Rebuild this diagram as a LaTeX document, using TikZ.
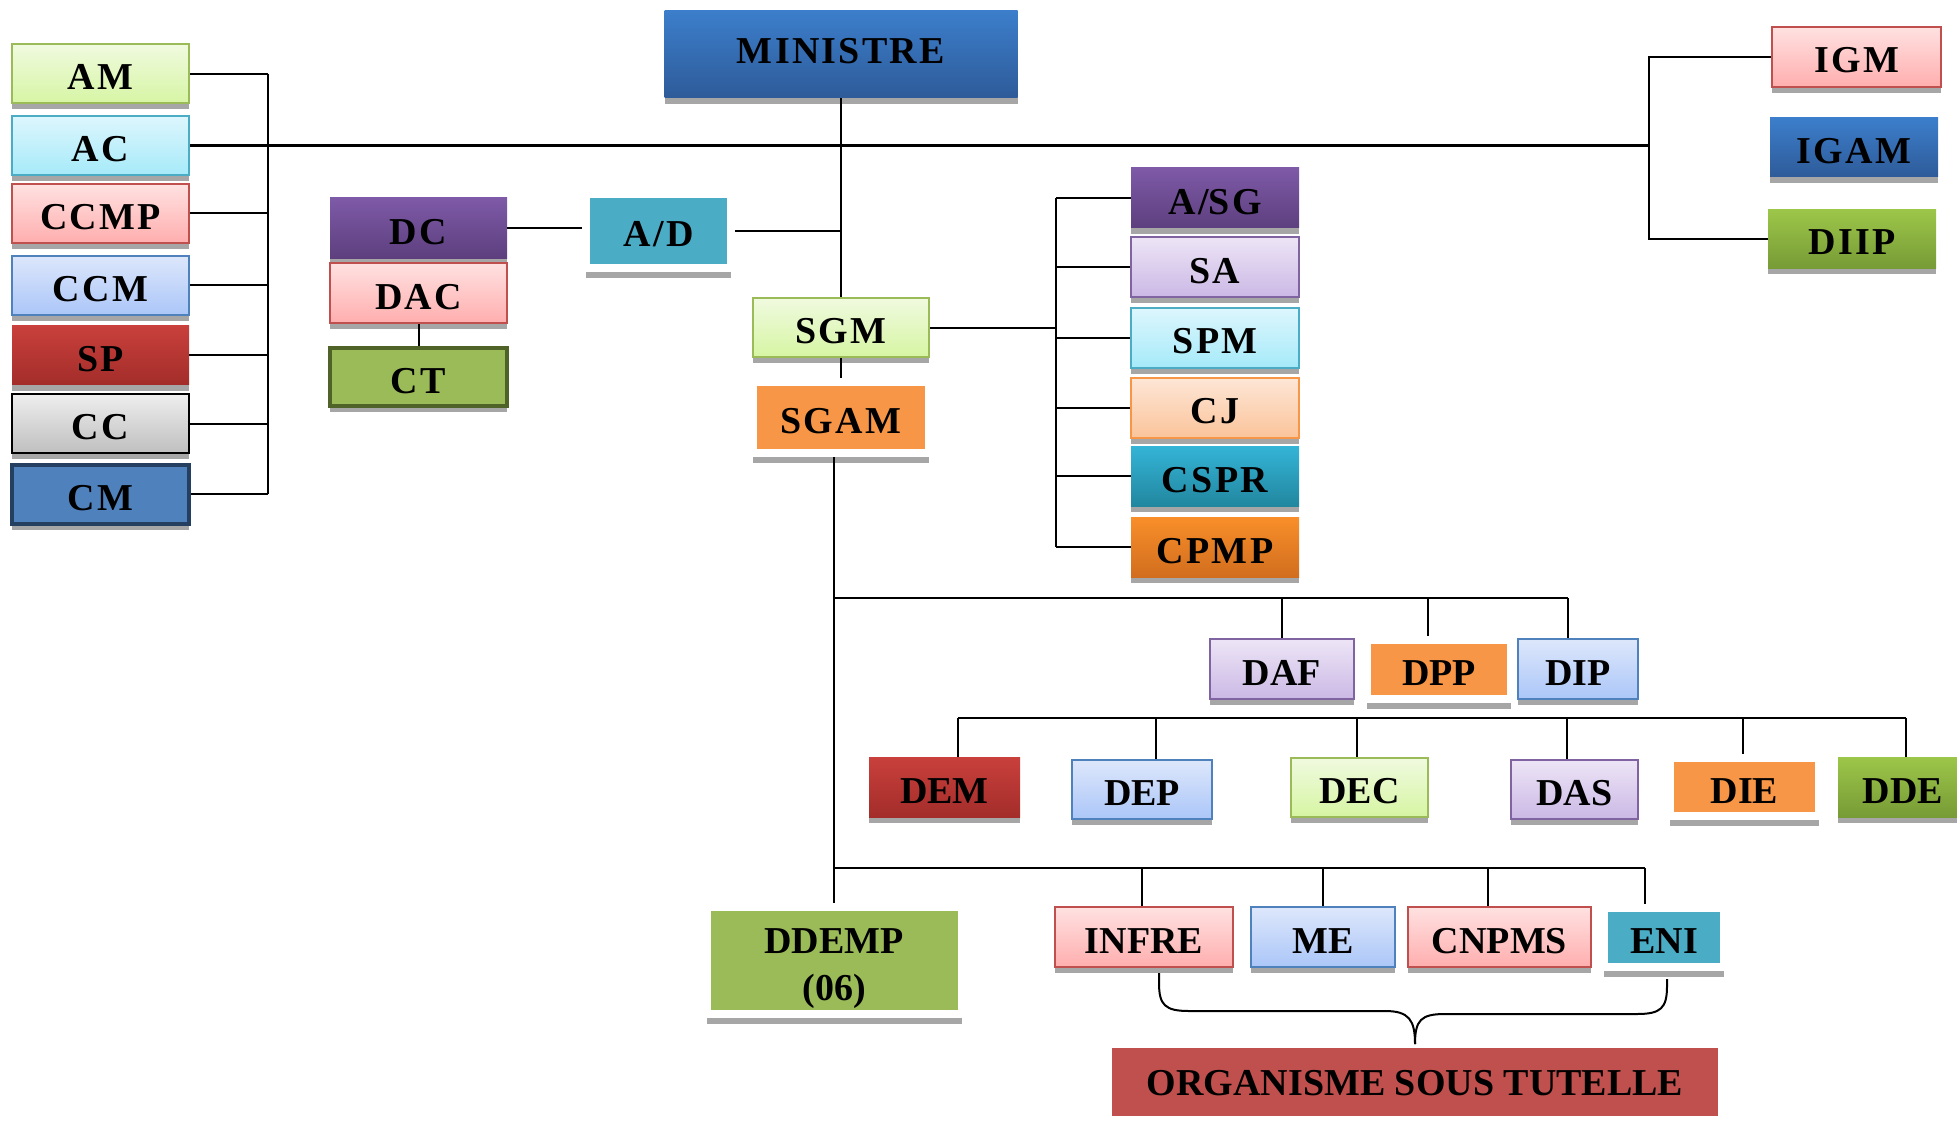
\documentclass[tikz,border=0pt]{standalone}
\usepackage{fontspec}
\setmainfont{Liberation Serif}
\newfontfamily\spacedfont[LetterSpace=6]{Liberation Serif}
\usepackage{xcolor}
\usepackage{tikz}
\usetikzlibrary{shadows}
\definecolor{shadowgray}{HTML}{A6A6A6}
\definecolor{gtop}{HTML}{F0FADF}
\definecolor{gbot}{HTML}{D6F5A3}
\definecolor{gline}{HTML}{9BBB59}
\definecolor{ctop}{HTML}{DDF6FD}
\definecolor{cbot}{HTML}{A6EAF9}
\definecolor{cline}{HTML}{4BACC6}
\definecolor{ptop}{HTML}{FFE1E1}
\definecolor{pbot}{HTML}{FFAEAE}
\definecolor{pline}{HTML}{C0504D}
\definecolor{btop}{HTML}{DDE7FB}
\definecolor{bbot}{HTML}{ABC6F8}
\definecolor{bline}{HTML}{4F81BD}
\definecolor{rtop}{HTML}{C9403C}
\definecolor{rbot}{HTML}{A32D2A}
\definecolor{ytop}{HTML}{EEEEEE}
\definecolor{ybot}{HTML}{BFBFBF}
\definecolor{navyline}{HTML}{243F60}
\definecolor{mtop}{HTML}{3C7ECB}
\definecolor{mbot}{HTML}{2E5B99}
\definecolor{vtop}{HTML}{7E5AA7}
\definecolor{vbot}{HTML}{5D3F7E}
\definecolor{ltop}{HTML}{EDE5F6}
\definecolor{lbot}{HTML}{CBB8E5}
\definecolor{lline}{HTML}{8064A2}
\definecolor{otop}{HTML}{FDE6D6}
\definecolor{obot}{HTML}{FBC49B}
\definecolor{oline}{HTML}{F79646}
\definecolor{ttop}{HTML}{34B4D7}
\definecolor{tbot}{HTML}{22879F}
\definecolor{ftop}{HTML}{F98F2A}
\definecolor{fbot}{HTML}{D16D1E}
\definecolor{dtop}{HTML}{9CC649}
\definecolor{dbot}{HTML}{779B36}
\definecolor{ctline}{HTML}{4F6228}
\definecolor{aqua}{HTML}{4BACC6}
\definecolor{orng}{HTML}{F79646}
\definecolor{olive}{HTML}{9BBB59}
\definecolor{brick}{HTML}{C0504D}
\newcommand{\boxfont}{\bfseries\fontsize{19}{23.5}\selectfont}
\newcommand{\upfont}{\spacedfont\bfseries\fontsize{19}{23.5}\selectfont}
\tikzset{
  sz/.style 2 args={minimum width=#1, minimum height=#2},
  grad/.style 2 args={top color=#1, bottom color=#2},
  low/.style={text height=16pt, text depth=0pt},
  up/.style={font=\upfont},
  box/.style={font=\boxfont, inner sep=0pt, align=center, low,
    drop shadow={shadow xshift=0pt, shadow yshift=-3pt, fill=shadowgray, opacity=1}},
  framebase/.style={font=\boxfont, inner sep=0pt, align=center, fill=#1,
    draw=white, line width=4pt,
    drop shadow={shadow xshift=0pt, shadow yshift=-5pt, fill=shadowgray, opacity=1}},
  whiteframe/.style={framebase=#1, low},
  paleg/.style={box, grad={gtop}{gbot}, draw=gline, line width=1pt},
  palec/.style={box, grad={ctop}{cbot}, draw=cline, line width=1pt},
  palep/.style={box, grad={ptop}{pbot}, draw=pline, line width=1pt},
  paleb/.style={box, grad={btop}{bbot}, draw=bline, line width=1pt},
  palel/.style={box, grad={ltop}{lbot}, draw=lline, line width=1pt},
  paleo/.style={box, grad={otop}{obot}, draw=oline, line width=1pt},
  grayb/.style={box, grad={ytop}{ybot}, draw=black, line width=1pt},
  redb/.style={box, grad={rtop}{rbot}},
  blueb/.style={box, grad={mtop}{mbot}},
  violetb/.style={box, grad={vtop}{vbot}},
  tealb/.style={box, grad={ttop}{tbot}},
  orangeb/.style={box, grad={ftop}{fbot}},
  greenb/.style={box, grad={dtop}{dbot}},
  cmb/.style={box, fill=bline, draw=navyline, line width=2pt},
  ctb/.style={box, fill=olive, draw=ctline, line width=2pt},
  link/.style={line width=1pt},
  mainlink/.style={line width=1.3pt}
}
\begin{document}
\begin{tikzpicture}[x=0.5pt,y=-0.5pt]
\useasboundingbox (0,0) rectangle (1957,1123);
\clip (0,0) rectangle (1957,1123);

% cabinet column
\coordinate (lbus) at (268,0);
\foreach \n/\t/\y/\s in {am/AM/74/paleg, ac/AC/145.5/palec, ccmp/CCMP/213.5/palep,
  ccm/CCM/285/paleb, sp/SP/355/redb, cc/CC/423.5/grayb, cm/CM/494/cmb}
{
  \node[\s,up,sz={88.5pt}{29.5pt}] (\n) at (100.5,\y) {\t};
  \draw[link] (\n.east) -- (\n.east -| lbus);
}
\draw[link] (am.east -| lbus) -- (cm.east -| lbus);

% minister and main line
\node[blueb,up,sz={176.5pt}{43.5pt},text height=12.6pt,text depth=4pt] (ministre)
  at (841,54.5) {MINISTRE};
\coordinate (rbrk) at (1649,0);
\draw[mainlink] (ac.east) -- (ac.east -| rbrk);

% inspections
\node[palep,up,sz={84.5pt}{30pt}] (igm) at (1856.5,57) {IGM};
\node[blueb,up,sz={84pt}{29.5pt}] (igam) at (1854,147.5) {IGAM};
\node[greenb,up,sz={84pt}{29pt}] (diip) at (1852,239) {DIIP};
\draw[link] (igm.west) -- (igm.west -| rbrk) -- (diip.west -| rbrk) -- (diip.west);

% cabinet directeur
\node[violetb,up,sz={88.5pt}{30pt}] (dc) at (418.5,228) {DC};
\node[palep,up,sz={88.5pt}{30pt}] (dac) at (418.5,293) {DAC};
\node[ctb,up,sz={88.5pt}{29pt}] (ct) at (418.5,377) {CT};
\node[whiteframe=aqua,up,sz={72.5pt}{36.5pt}] (ad) at (658.5,231) {A/D};
\draw[link] (dac.south) -- (ct.north);
\draw[link] (dc.east) -- (dc.east -| ad.west);

% secretariat general
\node[paleg,up,sz={88pt}{29.5pt}] (sgm) at (841,327.5) {SGM};
\node[whiteframe=orng,up,sz={88pt}{35.5pt}] (sgam) at (841,417.5) {SGAM};
\draw[link] (ministre.south) -- (sgm.north);
\draw[link] (ad.east) -- (ad.east -| sgm.north);
\draw[link] (sgm.south) -- (sgam.north);

\coordinate (sgbus) at (1056,0);
\foreach \n/\t/\y/\s in {asg/A\slash SG/198/violetb, sa/SA/267/palel, spm/SPM/337.5/palec,
  cj/CJ/407.5/paleo, cspr/CSPR/476/tealb, cpmp/CPMP/547/orangeb}
{
  \node[\s,up,sz={84pt}{30pt}] (\n) at (1215,\y) {\t};
  \draw[link] (\n.west -| sgbus) -- (\n.west);
}
\draw[link] (sgm.east) -- (sgm.east -| sgbus);
\draw[link] (asg.west -| sgbus) -- (cpmp.west -| sgbus);

% directions
\node[framebase=olive,sz={127.5pt}{53.5pt}] (ddemp) at (834,960.5)
  {\rule{0pt}{20.6pt}DDEMP\\(06)};
\draw[link] (sgam.south -| ddemp.north) -- (ddemp.north);

\node[palel,sz={72pt}{30pt}] (daf) at (1282,669) {DAF};
\node[whiteframe=orng,sz={72pt}{29.5pt}] (dpp) at (1439,669.5) {DPP};
\node[paleb,sz={60pt}{30pt}] (dip) at (1578,669) {DIP};
\coordinate (bus1) at (0,598);
\foreach \n/\dx in {daf/0pt, dpp/-5.5pt, dip/-5pt}
  \coordinate (t\n) at ([xshift=\dx]\n.north);
\draw[mainlink] (bus1 -| ddemp.north) -- (bus1 -| tdip);
\foreach \n in {daf,dpp,dip}
  \draw[link] (bus1 -| t\n) -- (t\n);

\node[redb,sz={75.5pt}{30pt}] (dem) at (944.5,787) {DEM};
\node[paleb,sz={70pt}{29.5pt}] (dep) at (1142,789.5) {DEP};
\node[paleg,sz={68.5pt}{29.5pt}] (dec) at (1359.5,787.5) {DEC};
\node[palel,sz={63.5pt}{29.5pt}] (das) at (1574.5,789.5) {DAS};
\node[whiteframe=orng,sz={74.5pt}{29pt}] (die) at (1744.5,787) {DIE};
\node[greenb,sz={65pt}{30pt}] (dde) at (1903,787) {DDE};
\coordinate (bus2) at (0,718);
\foreach \n/\dx in {dem/6.75pt, dep/7pt, dec/-1.25pt, das/-3.75pt, die/-0.75pt, dde/1.5pt}
  \coordinate (t\n) at ([xshift=\dx]\n.north);
\draw[mainlink] (bus2 -| tdem) -- (bus2 -| tdde);
\foreach \n in {dem,dep,dec,das,die,dde}
  \draw[link] (bus2 -| t\n) -- (t\n);

% organismes sous tutelle
\node[palep,sz={89pt}{30pt}] (infre) at (1144,937) {INFRE};
\node[paleb,sz={72pt}{30pt}] (me) at (1323,937) {ME};
\node[palep,sz={91.5pt}{30pt}] (cnpms) at (1499.5,937) {CNPMS};
\node[whiteframe=aqua,sz={60pt}{29.5pt}] (eni) at (1664,937.5) {ENI};
\coordinate (bus3) at (0,868);
\foreach \n/\dx in {infre/-1pt, me/0pt, cnpms/-5.75pt, eni/-9.5pt}
  \coordinate (t\n) at ([xshift=\dx]\n.north);
\draw[mainlink] (bus3 -| ddemp.north) -- (bus3 -| teni);
\foreach \n in {infre,me,cnpms,eni}
  \draw[link] (bus3 -| t\n) -- (t\n);

\node[whiteframe=brick,sz={307pt}{38pt},text height=13pt] (org) at (1415,1082)
  {ORGANISME SOUS TUTELLE};
\coordinate (bl) at ([xshift=7.5pt,yshift=-2.5pt]infre.south);
\coordinate (br) at ([xshift=1.5pt,yshift=-4pt]eni.south);
\coordinate (tip) at ([yshift=-2pt]org.north);
\draw[link] (bl) -- ++(0,10) .. controls +(0,22) and +(-24,0) .. ++(30,28)
  -- ++(196,0) .. controls +(24,0) and +(0,-24) .. (tip);
\draw[link] (br) -- ++(0,7) .. controls +(0,22) and +(24,0) .. ++(-30,28)
  -- ++(-192,0) .. controls +(-24,0) and +(0,-24) .. (tip);
\end{tikzpicture}
\end{document}
